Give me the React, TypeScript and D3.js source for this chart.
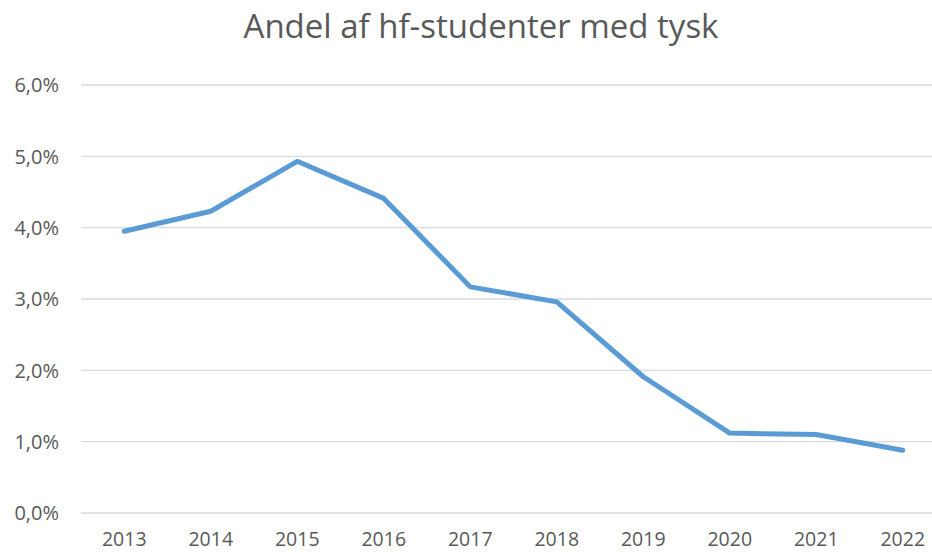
import React from 'react';
import * as d3 from 'd3';

const W = 932;
const H = 553;
const margin = { top: 85, right: -14, bottom: 40, left: 81 };

const years = ['2013', '2014', '2015', '2016', '2017', '2018', '2019', '2020', '2021', '2022'];
const shares = [3.95, 4.23, 4.93, 4.41, 3.17, 2.96, 1.91, 1.12, 1.10, 0.88];
const yTicks = [0, 1, 2, 3, 4, 5, 6];

const FONT = '"Open Sans", "Liberation Sans", sans-serif';
const TEXT = '#595959';

export default function App() {
  const x = d3.scaleBand().domain(years).range([margin.left, W - margin.right]);
  const y = d3.scaleLinear().domain([0, 6]).range([H - margin.bottom, margin.top]);
  const line = d3.line<number>()
    .x((d, i) => (x(years[i]) as number) + x.bandwidth() / 2)
    .y(d => y(d));
  const fmt = (d: number) => d.toFixed(1).replace('.', ',') + '%';

  return (
    <svg width={W} height={H} style={{ position: 'absolute', left: 0, top: 0, background: '#fff' }}>
      <text x={481} y={38} textAnchor="middle" fontFamily={FONT} fontSize={33} fill={TEXT}>
        Andel af hf-studenter med tysk
      </text>
      <g>
        {yTicks.map(t => (
          <g key={t}>
            <line x1={margin.left} x2={W} y1={y(t)} y2={y(t)} stroke="#d9d9d9" strokeWidth={1.3} />
            <text x={59} y={y(t)} dy="0.36em" textAnchor="end" fontFamily={FONT} fontSize={20} fill={TEXT}>
              {fmt(t)}
            </text>
          </g>
        ))}
      </g>
      <g>
        {years.map(yr => (
          <text key={yr} x={(x(yr) as number) + x.bandwidth() / 2} y={546} textAnchor="middle"
            fontFamily={FONT} fontSize={19.5} fill={TEXT}>
            {yr}
          </text>
        ))}
      </g>
      <path d={line(shares) || ''} fill="none" stroke="#5b9bd5" strokeWidth={5} strokeLinecap="round" strokeLinejoin="round" />
    </svg>
  );
}
